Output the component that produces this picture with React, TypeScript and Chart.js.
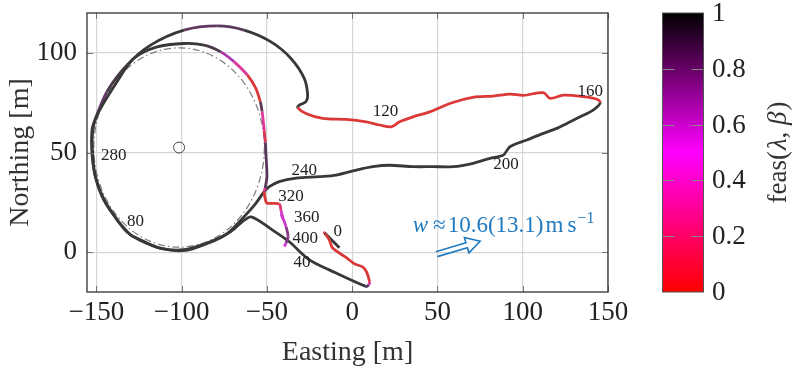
import React, { useEffect, useRef } from 'react';
import { Chart, registerables } from 'chart.js';

Chart.register(...registerables);

const FONT = '"Liberation Serif", "Times New Roman", serif';

// Axis ticks
const xTicks = [-150, -100, -50, 0, 50, 100, 150];
const yTicks = [0, 50, 100];
const cbTicks = [0, 0.2, 0.4, 0.6, 0.8, 1];

// Flight path (easting / northing in metres) and feasibility along it
const easting = [
  -7.5, -16.3, -13.4, -11.6, -3.4, 1.4, 6.1, 8.4, 10.2, 9.6,
  8.0, -13.4, -25.1, -36.9, -46.9, -59.2, -64.5, -71.2, -82.9, -98.6,
  -112.4, -126.1, -130.0, -133.9, -137.9, -145.7, -150.6, -152.6, -152.6, -151.0,
  -143.8, -132.0, -118.2, -98.6, -79.1, -63.4, -47.6, -35.9, -28.1, -26.1,
  -27.1, -31.0, -32.0, -27.1, -17.3, -3.5, 8.2, 16.1, 22.9, 27.8,
  35.6, 45.5, 57.2, 70.9, 82.7, 92.5, 100.4, 112.1, 116.1, 123.9,
  135.6, 143.5, 145.5, 141.5, 133.7, 125.9, 120.0, 112.1, 102.4, 92.5,
  88.6, 80.8, 70.9, 59.2, 47.4, 35.6, 21.9, 12.1, 2.4, -9.4,
  -19.2, -32.9, -42.8, -48.6, -51.6, -56.5, -62.4, -73.4, -83.9, -97.5,
  -111.6, -125.1, -132.2, -136.9, -145.1, -150.4, -152.2, -152.2, -149.6, -137.9,
  -128.1, -114.4, -98.6, -86.9, -77.1, -69.2, -61.4, -56.5, -53.9, -52.8,
  -51.6, -50.9, -50.6, -50.0, -51.0, -51.6, -50.6, -49.6, -42.8, -41.8,
  -40.8, -41.5, -38.8, -37.6, -38.8, -39.8,
];
const northing = [
  2.2, 9.7, 6.2, 2.2, -2.8, -5.9, -7.4, -9.9, -14.9, -16.4,
  -17.2, -8.9, -3.9, 5.2, 11.2, 17.7, 15.2, 10.3, 5.3, 1.2,
  2.0, 7.0, 8.7, 12.2, 16.2, 26.2, 37.9, 49.6, 61.3, 66.0,
  80.5, 93.9, 103.9, 111.4, 113.5, 111.4, 105.5, 97.2, 87.2, 78.8,
  75.5, 73.8, 72.5, 69.6, 67.1, 66.6, 65.4, 63.8, 62.9, 65.4,
  67.9, 70.4, 74.6, 77.7, 78.3, 79.3, 78.7, 80.0, 77.2, 78.8,
  78.0, 76.7, 75.0, 71.4, 67.9, 64.6, 62.1, 59.6, 56.3, 52.9,
  48.7, 47.1, 44.6, 42.9, 42.9, 42.9, 43.6, 42.9, 41.2, 38.7,
  37.9, 37.1, 35.4, 32.9, 30.4, 24.5, 18.7, 9.2, 4.7, 0.9,
  1.7, 6.2, 10.2, 15.2, 25.7, 37.2, 48.7, 60.3, 68.8, 85.5,
  97.2, 103.0, 104.7, 103.9, 100.5, 95.5, 88.8, 82.2, 75.5, 70.5,
  61.2, 55.0, 49.6, 37.9, 32.2, 30.4, 25.4, 24.5, 24.2, 21.2,
  17.0, 19.0, 12.8, 7.8, 4.5, 2.8,
];
const feas = [
  1, 0, 0, 0, 0, 0, 0, 0, 0.3, 0.9,
  1, 1, 1, 1, 1, 1, 1, 1, 1, 1,
  1, 1, 1, 1, 1, 1, 1, 1, 0.9, 0.85,
  0.95, 1, 1, 0.88, 0.9, 1, 1, 1, 1, 1,
  1, 1, 0, 0, 0, 0, 0, 0, 0, 0,
  0, 0, 0, 0, 0, 0, 0, 0, 0, 0,
  0, 0, 1, 1, 1, 1, 1, 1, 1, 1,
  1, 1, 1, 1, 1, 1, 1, 1, 1, 1,
  1, 1, 1, 1, 1, 1, 1, 1, 1, 1,
  1, 1, 1, 1, 1, 1, 1, 1, 1, 1,
  1, 1, 1, 0.95, 0.65, 0.3, 0, 0, 0.9, 0.3,
  0.1, 0.9, 0.9, 0.9, 0.3, 0, 0, 0, 0.15, 0.4,
  0.5, 0.55, 0.75, 0.8, 0.5, 0.6,
];

// Elapsed-time markers along the path [s]
const timeLabels = ['0', '40', '80', '120', '160', '200', '240', '280', '320', '360', '400'];
const timeLabelEasting = [-8.5, -29.4, -127.1, 19.6, 139.6, 90.2, -28.1, -139.8, -35.9, -26.7, -27.5];
const timeLabelNorthing = [10.3, -5.2, 15.3, 70.4, 80.5, 44.2, 41.2, 48.7, 27.9, 17.3, 7.0];

// Loiter circle
const loiterCenter = [-101.5, 52.5];
const loiterRadius = 50;

// Wind indicator
const windTail = [49.5, -1.0];
const windTip = [75.0, 5.5];
const windLabelAnchor = [35.5, 10.2];
const windSpeed = '10.6';
const windGust = '13.1';

const WIND_BLUE = 'rgb(32,122,192)';

function feasRGB(v: number): [number, number, number] {
  if (v <= 0.5) {
    const t = v / 0.5;
    return [255, 0, 255 * t];
  }
  const t = (v - 0.5) / 0.5;
  return [255 * (1 - t), 0, 255 * (1 - t)];
}

function lineColor(v: number): string {
  const [r, g, b] = feasRGB(v);
  const k = 0.82;
  const a = 0.78;
  const mix = (c: number) => Math.round(c * k * a + 255 * (1 - a));
  return `rgb(${mix(r)},${mix(g)},${mix(b)})`;
}

const fmt = (v: number | string) => {
  const n = Number(v);
  return n < 0 ? '\u2212' + Math.abs(n) : String(n);
};

type Piece = { text: string; italic?: boolean; size: number; dy?: number; gap?: number };

function drawPieces(ctx: CanvasRenderingContext2D, pieces: Piece[], x: number, y: number, center: boolean) {
  let total = 0;
  for (const p of pieces) {
    ctx.font = `${p.italic ? 'italic ' : ''}${p.size}px ${FONT}`;
    total += ctx.measureText(p.text).width + (p.gap || 0);
  }
  let cx = center ? x - total / 2 : x;
  for (const p of pieces) {
    ctx.font = `${p.italic ? 'italic ' : ''}${p.size}px ${FONT}`;
    ctx.fillText(p.text, cx, y + (p.dy || 0));
    cx += ctx.measureText(p.text).width + (p.gap || 0);
  }
}

const overlay = {
  id: 'overlay',
  beforeDatasetsDraw(chart: any) {
    const { ctx, scales } = chart;
    const x = scales.x;
    const y = scales.y;
    const cx = x.getPixelForValue(loiterCenter[0]);
    const cy = y.getPixelForValue(loiterCenter[1]);
    const rx = Math.abs(x.getPixelForValue(loiterCenter[0] + loiterRadius) - cx);
    const ry = Math.abs(y.getPixelForValue(loiterCenter[1] + loiterRadius) - cy);
    ctx.save();
    ctx.beginPath();
    ctx.ellipse(cx, cy, rx, ry, 0, 0, Math.PI * 2);
    ctx.setLineDash([7, 3, 1.5, 3]);
    ctx.strokeStyle = '#7c7c7c';
    ctx.lineWidth = 1.2;
    ctx.stroke();
    ctx.setLineDash([]);
    ctx.beginPath();
    ctx.arc(cx, cy, 5.5, 0, Math.PI * 2);
    ctx.strokeStyle = '#444';
    ctx.lineWidth = 1;
    ctx.stroke();
    ctx.restore();
  },
  afterDatasetsDraw(chart: any) {
    const { ctx, chartArea, scales } = chart;
    const x = scales.x;
    const y = scales.y;
    const { left, right, top, bottom } = chartArea;
    ctx.save();

    // time markers
    ctx.fillStyle = '#222';
    ctx.font = `17px ${FONT}`;
    ctx.textAlign = 'center';
    ctx.textBaseline = 'middle';
    timeLabels.forEach((t, i) => {
      ctx.fillText(t, x.getPixelForValue(timeLabelEasting[i]), y.getPixelForValue(timeLabelNorthing[i]));
    });

    // wind arrow (double shaft, open head)
    const tx = x.getPixelForValue(windTail[0]);
    const ty = y.getPixelForValue(windTail[1]);
    const hx = x.getPixelForValue(windTip[0]);
    const hy = y.getPixelForValue(windTip[1]);
    const len = Math.hypot(hx - tx, hy - ty);
    const ux = (hx - tx) / len;
    const uy = (hy - ty) / len;
    const nx = -uy;
    const ny = ux;
    const headLen = 14;
    const bx = hx - ux * headLen;
    const by = hy - uy * headLen;
    const sw = 2.6;
    const hw = 8;
    ctx.beginPath();
    ctx.moveTo(tx + nx * sw, ty + ny * sw);
    ctx.lineTo(bx + nx * sw, by + ny * sw);
    ctx.lineTo(bx + nx * hw, by + ny * hw);
    ctx.lineTo(hx, hy);
    ctx.lineTo(bx - nx * hw, by - ny * hw);
    ctx.lineTo(bx - nx * sw, by - ny * sw);
    ctx.lineTo(tx - nx * sw, ty - ny * sw);
    ctx.strokeStyle = WIND_BLUE;
    ctx.lineWidth = 1.6;
    ctx.lineJoin = 'miter';
    ctx.stroke();

    // wind label
    ctx.fillStyle = WIND_BLUE;
    ctx.textAlign = 'left';
    ctx.textBaseline = 'alphabetic';
    drawPieces(
      ctx,
      [
        { text: 'w', italic: true, size: 23, gap: 5 },
        { text: '\u2248', size: 23, gap: 2 },
        { text: `${windSpeed}(${windGust})`, size: 23, gap: 2 },
        { text: 'm', size: 23, gap: 4 },
        { text: 's', size: 23, gap: 1 },
        { text: '\u22121', size: 16, dy: -9 },
      ],
      x.getPixelForValue(windLabelAnchor[0]),
      y.getPixelForValue(windLabelAnchor[1]),
      false
    );

    // inner tick marks
    ctx.strokeStyle = '#777';
    ctx.lineWidth = 1;
    ctx.beginPath();
    xTicks.forEach((v) => {
      const px = Math.round(x.getPixelForValue(v)) + 0.5;
      ctx.moveTo(px, bottom);
      ctx.lineTo(px, bottom - 6);
      ctx.moveTo(px, top);
      ctx.lineTo(px, top + 6);
    });
    yTicks.forEach((v) => {
      const py = Math.round(y.getPixelForValue(v)) + 0.5;
      ctx.moveTo(left, py);
      ctx.lineTo(left + 6, py);
      ctx.moveTo(right, py);
      ctx.lineTo(right - 6, py);
    });
    ctx.stroke();

    // frame
    ctx.strokeStyle = '#333';
    ctx.lineWidth = 1.3;
    ctx.strokeRect(left, top, right - left, bottom - top);

    // colour bar
    const cbL = 662.5;
    const cbR = 703.5;
    const grad = ctx.createLinearGradient(0, bottom, 0, top);
    grad.addColorStop(0, 'rgb(255,0,0)');
    grad.addColorStop(0.5, 'rgb(255,0,255)');
    grad.addColorStop(1, 'rgb(0,0,0)');
    ctx.fillStyle = grad;
    ctx.fillRect(cbL, top, cbR - cbL, bottom - top);
    ctx.strokeStyle = '#888';
    ctx.lineWidth = 1;
    ctx.beginPath();
    cbTicks.forEach((v) => {
      if (v === 0 || v === 1) return;
      const py = Math.round(bottom - v * (bottom - top)) + 0.5;
      ctx.moveTo(cbL, py);
      ctx.lineTo(cbL + 12, py);
      ctx.moveTo(cbR, py);
      ctx.lineTo(cbR - 12, py);
    });
    ctx.stroke();
    ctx.strokeStyle = '#555';
    ctx.lineWidth = 1;
    ctx.strokeRect(cbL, top, cbR - cbL, bottom - top);

    ctx.fillStyle = '#222';
    ctx.font = `27px ${FONT}`;
    ctx.textAlign = 'left';
    ctx.textBaseline = 'middle';
    cbTicks.forEach((v) => {
      ctx.fillText(String(v), 712, bottom - v * (bottom - top) + 1);
    });

    // colour bar title
    ctx.save();
    ctx.translate(779, (top + bottom) / 2);
    ctx.rotate(-Math.PI / 2);
    ctx.fillStyle = '#333';
    ctx.textBaseline = 'middle';
    drawPieces(
      ctx,
      [
        { text: 'feas(', size: 27, gap: 1 },
        { text: '\u03bb', italic: true, size: 27, gap: 0 },
        { text: ', ', size: 27, gap: 0 },
        { text: '\u03b2', italic: true, size: 27, gap: 1 },
        { text: ')', size: 27 },
      ],
      0,
      0,
      true
    );
    ctx.restore();

    ctx.restore();
  },
};

// Fixed axis footprint so the plot frame sits at a known place
function pinScale(size: { width?: number; height?: number }) {
  return (s: any) => {
    if (size.width !== undefined) s.width = size.width;
    if (size.height !== undefined) s.height = size.height;
    s.paddingTop = 0;
    s.paddingBottom = 0;
    s.paddingLeft = 0;
    s.paddingRight = 0;
  };
}

export default function App() {
  const canvasRef = useRef<HTMLCanvasElement | null>(null);

  useEffect(() => {
    const canvas = canvasRef.current;
    if (!canvas) return;
    const points = easting.map((e, i) => ({ x: e, y: northing[i] }));
    const chart = new Chart(canvas, {
      type: 'line',
      data: {
        datasets: [
          {
            data: points,
            borderWidth: 2.8,
            pointRadius: 0,
            tension: 0.3,
            fill: false,
            borderCapStyle: 'butt',
            borderJoinStyle: 'round',
            borderColor: lineColor(1),
            segment: {
              borderColor: (c: any) => lineColor(feas[c.p0DataIndex]),
            },
          } as any,
        ],
      },
      options: {
        animation: false,
        responsive: false,
        devicePixelRatio: 1,
        layout: { padding: { top: 13, right: 189, left: 0, bottom: 0 } },
        plugins: {
          legend: { display: false },
          tooltip: { enabled: false },
        },
        scales: {
          x: {
            type: 'linear',
            min: -155.5,
            max: 150,
            afterFit: pinScale({ height: 83 }),
            afterBuildTicks: (s: any) => {
              s.ticks = xTicks.map((value) => ({ value }));
            },
            grid: { color: '#d6d6d6', lineWidth: 1.2, drawTicks: false },
            border: { display: false },
            ticks: {
              padding: 5,
              color: '#222',
              font: { family: FONT, size: 27 },
              maxRotation: 0,
              autoSkip: false,
              callback: fmt,
            },
            title: {
              display: true,
              text: 'Easting [m]',
              color: '#333',
              font: { family: FONT, size: 28 },
              padding: { top: 0, bottom: 6 },
            },
          },
          y: {
            type: 'linear',
            min: -20,
            max: 120,
            afterFit: pinScale({ width: 87 }),
            afterBuildTicks: (s: any) => {
              s.ticks = yTicks.map((value) => ({ value }));
            },
            grid: { color: '#d6d6d6', lineWidth: 1.2, drawTicks: false },
            border: { display: false },
            ticks: {
              padding: 10,
              color: '#222',
              font: { family: FONT, size: 27 },
              autoSkip: false,
              callback: fmt,
            },
            title: {
              display: true,
              text: 'Northing [m]',
              color: '#333',
              font: { family: FONT, size: 28 },
              padding: { top: 4, bottom: 0 },
            },
          },
        },
      } as any,
      plugins: [overlay],
    });
    return () => chart.destroy();
  }, []);

  return (
    <div style={{ position: 'absolute', left: 0, top: 0, width: 797, height: 375, background: '#fff' }}>
      <canvas ref={canvasRef} width={797} height={375} style={{ width: 797, height: 375, display: 'block' }} />
    </div>
  );
}
